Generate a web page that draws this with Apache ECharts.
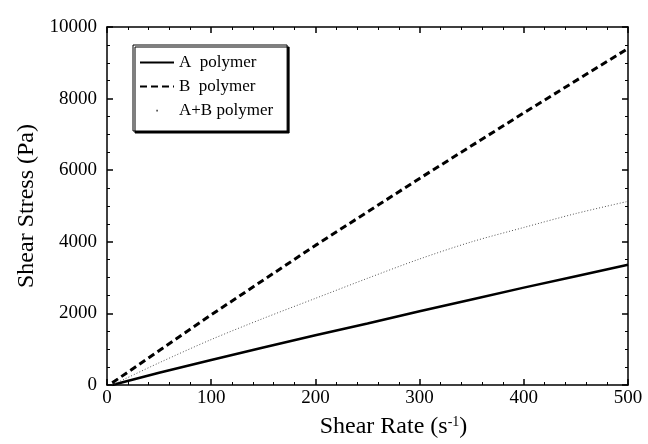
<!DOCTYPE html>
<html>
<head>
<meta charset="utf-8">
<script src="https://cdn.jsdelivr.net/npm/echarts@6/dist/echarts.min.js"></script>
<style>
  html, body { margin: 0; padding: 0; background: #fff; }
  #chart { width: 648px; height: 444px; }
</style>
</head>
<body>
<div id="chart"></div>
<script>
// shear rate (s^-1) -> shear stress (Pa)
const rateA = [5, 50, 100, 150, 200, 250, 300, 350, 400, 450, 500];
const stressA = [0, 340, 700, 1050, 1390, 1720, 2060, 2390, 2720, 3040, 3360];

const rateB = [5, 100, 200, 300, 400, 500];
const stressB = [60, 1960, 3900, 5770, 7600, 9400];

const rateAB = [5, 50, 100, 150, 200, 250, 300, 350, 400, 450, 500];
const stressAB = [0, 620, 1270, 1860, 2420, 2980, 3520, 4000, 4400, 4790, 5130];

const names = ["A  polymer", "B  polymer", "A+B polymer"];

const pairs = (xs, ys) => xs.map((x, i) => [x, ys[i]]);

const font = "Liberation Serif";
const myChart = echarts.init(document.getElementById("chart"));

// tiny dot in the middle of the legend icon box (corners keep the scale)
const dotIcon = "path://M0,0h0.01v0.01h-0.01z M34,14h0.01v0.01h-0.01z M16.3,6.3h1.6v1.6h-1.6z";

const frameAxis = {
  axisLine: { show: true, onZero: false, lineStyle: { color: "#000", width: 1.5 } },
  axisTick: { show: true, inside: true, length: 6, lineStyle: { color: "#000", width: 1.5 } },
  minorTick: { show: true, length: 3, lineStyle: { color: "#000", width: 1 } },
  splitLine: { show: false },
};

const option = {
  animation: false,
  backgroundColor: "#fff",
  grid: { left: 107, right: 20, top: 27, bottom: 56 },
  legend: {
    left: 133,
    top: 45,
    orient: "vertical",
    itemWidth: 34,
    itemHeight: 14,
    itemGap: 7,
    padding: [9, 14, 12, 6],
    backgroundColor: "#fff",
    borderColor: "#000",
    borderWidth: 1,
    shadowColor: "#000",
    shadowBlur: 0,
    shadowOffsetX: 2,
    shadowOffsetY: 2,
    itemStyle: { opacity: 0 },
    textStyle: { fontFamily: font, fontSize: 17, color: "#000" },
    data: [
      { name: names[0] },
      { name: names[1] },
      { name: names[2], icon: dotIcon, itemStyle: { opacity: 1, color: "#444" } },
    ],
  },
  xAxis: [
    Object.assign({}, frameAxis, {
      type: "value",
      min: 0,
      max: 500,
      interval: 100,
      minorTick: Object.assign({}, frameAxis.minorTick, { splitNumber: 5 }),
      axisLabel: { fontFamily: font, fontSize: 19, color: "#000", margin: 4 },
      name: "Shear Rate (s{sup|-1})",
      nameLocation: "middle",
      nameGap: 30,
      nameTextStyle: {
        fontFamily: font, fontSize: 24, color: "#000", padding: [0, 0, 0, 52],
        rich: { sup: { fontFamily: font, fontSize: 14, color: "#000", verticalAlign: "top", padding: [0, 0, 10, 0] } },
      },
    }),
    Object.assign({}, frameAxis, {
      type: "value",
      position: "top",
      min: 0,
      max: 500,
      interval: 100,
      minorTick: Object.assign({}, frameAxis.minorTick, { splitNumber: 5 }),
      axisLabel: { show: false },
    }),
  ],
  yAxis: [
    Object.assign({}, frameAxis, {
      type: "value",
      min: 0,
      max: 10000,
      interval: 2000,
      minorTick: Object.assign({}, frameAxis.minorTick, { splitNumber: 4 }),
      axisLabel: { fontFamily: font, fontSize: 19, color: "#000", margin: 10, formatter: (v) => String(v) },
      name: "Shear Stress (Pa)",
      nameLocation: "middle",
      nameGap: 62,
      nameTextStyle: { fontFamily: font, fontSize: 24, color: "#000" },
    }),
    Object.assign({}, frameAxis, {
      type: "value",
      position: "right",
      min: 0,
      max: 10000,
      interval: 2000,
      minorTick: Object.assign({}, frameAxis.minorTick, { splitNumber: 4 }),
      axisLabel: { show: false },
    }),
  ],
  series: [
    {
      name: names[0],
      type: "line",
      showSymbol: false,
      symbol: "none",
      data: pairs(rateA, stressA),
      lineStyle: { color: "#000", width: 2.5, type: "solid" },
      itemStyle: { color: "#000" },
    },
    {
      name: names[1],
      type: "line",
      showSymbol: false,
      symbol: "none",
      data: pairs(rateB, stressB),
      lineStyle: { color: "#000", width: 3, type: [7, 4] },
      itemStyle: { color: "#000" },
    },
    {
      name: names[2],
      type: "line",
      showSymbol: false,
      symbol: "none",
      smooth: 0.3,
      data: pairs(rateAB, stressAB),
      lineStyle: { color: "#555", width: 1, type: [1, 2] },
      itemStyle: { color: "#555" },
    },
  ],
};

myChart.setOption(option);
</script>
</body>
</html>
